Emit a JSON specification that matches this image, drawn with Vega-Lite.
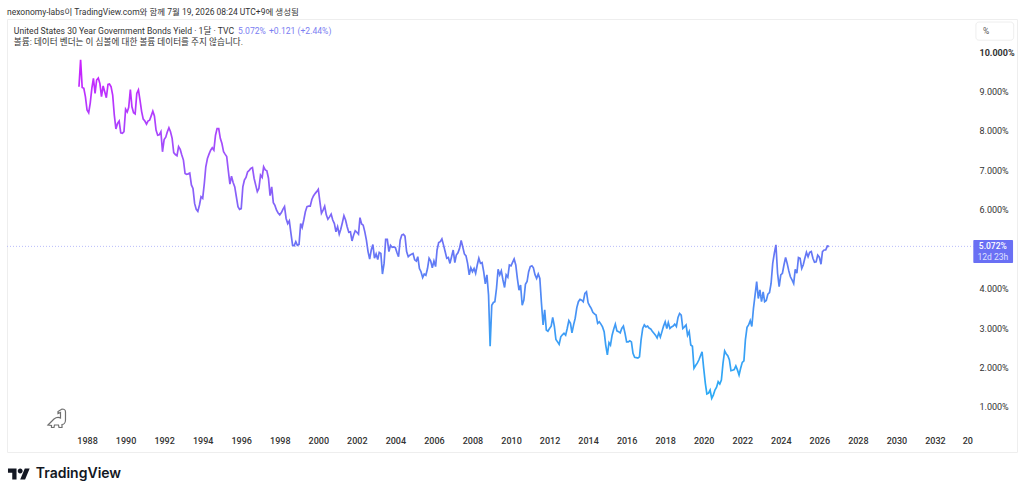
{
  "$schema": "https://vega.github.io/schema/vega-lite/v6.json",
  "autosize": "none",
  "width": 1010,
  "height": 433,
  "padding": {"left": 7, "top": 19, "right": 7, "bottom": 43},
  "background": "white",
  "title": {
    "text": "nexonomy-labs이 TradingView.com와 함께 7월 19, 2026 08:24 UTC+9에 생성됨",
    "anchor": "start",
    "frame": "group",
    "font": "Roboto, Noto Sans CJK KR",
    "fontSize": 8.5,
    "fontWeight": "normal",
    "color": "#333333",
    "offset": 3
  },
  "datasets": {
    "series": [
      {"month":"1987-08","yield":9.12},{"month":"1987-09","yield":9.8},{"month":"1987-10","yield":9.1},{"month":"1987-11","yield":9.08},{"month":"1987-12","yield":8.87},
      {"month":"1988-01","yield":8.53},{"month":"1988-02","yield":8.46},{"month":"1988-03","yield":8.7},{"month":"1988-04","yield":9.08},{"month":"1988-05","yield":9.33},{"month":"1988-06","yield":8.95},{"month":"1988-07","yield":9.29},{"month":"1988-08","yield":9.34},{"month":"1988-09","yield":9.2},{"month":"1988-10","yield":8.87},{"month":"1988-11","yield":9.14},{"month":"1988-12","yield":8.99},
      {"month":"1989-01","yield":8.84},{"month":"1989-02","yield":9.18},{"month":"1989-03","yield":9.19},{"month":"1989-04","yield":9.12},{"month":"1989-05","yield":8.91},{"month":"1989-06","yield":8.4},{"month":"1989-07","yield":8.05},{"month":"1989-08","yield":8.19},{"month":"1989-09","yield":8.25},{"month":"1989-10","yield":7.95},{"month":"1989-11","yield":7.94},{"month":"1989-12","yield":7.98},
      {"month":"1990-01","yield":8.55},{"month":"1990-02","yield":8.48},{"month":"1990-03","yield":8.6},{"month":"1990-04","yield":9.05},{"month":"1990-05","yield":8.61},{"month":"1990-06","yield":8.46},{"month":"1990-07","yield":8.43},{"month":"1990-08","yield":8.95},{"month":"1990-09","yield":9.04},{"month":"1990-10","yield":8.78},{"month":"1990-11","yield":8.49},{"month":"1990-12","yield":8.3},
      {"month":"1991-01","yield":8.25},{"month":"1991-02","yield":8.17},{"month":"1991-03","yield":8.25},{"month":"1991-04","yield":8.27},{"month":"1991-05","yield":8.38},{"month":"1991-06","yield":8.5},{"month":"1991-07","yield":8.38},{"month":"1991-08","yield":8.02},{"month":"1991-09","yield":7.89},{"month":"1991-10","yield":7.9},{"month":"1991-11","yield":7.98},{"month":"1991-12","yield":7.47},
      {"month":"1992-01","yield":7.78},{"month":"1992-02","yield":7.84},{"month":"1992-03","yield":7.97},{"month":"1992-04","yield":8.08},{"month":"1992-05","yield":7.98},{"month":"1992-06","yield":7.81},{"month":"1992-07","yield":7.45},{"month":"1992-08","yield":7.4},{"month":"1992-09","yield":7.37},{"month":"1992-10","yield":7.6},{"month":"1992-11","yield":7.53},{"month":"1992-12","yield":7.39},
      {"month":"1993-01","yield":7.26},{"month":"1993-02","yield":6.92},{"month":"1993-03","yield":6.9},{"month":"1993-04","yield":6.91},{"month":"1993-05","yield":6.93},{"month":"1993-06","yield":6.63},{"month":"1993-07","yield":6.54},{"month":"1993-08","yield":6.16},{"month":"1993-09","yield":6.01},{"month":"1993-10","yield":5.96},{"month":"1993-11","yield":6.12},{"month":"1993-12","yield":6.33},
      {"month":"1994-01","yield":6.29},{"month":"1994-02","yield":6.67},{"month":"1994-03","yield":7.09},{"month":"1994-04","yield":7.3},{"month":"1994-05","yield":7.41},{"month":"1994-06","yield":7.51},{"month":"1994-07","yield":7.57},{"month":"1994-08","yield":7.51},{"month":"1994-09","yield":7.89},{"month":"1994-10","yield":8.06},{"month":"1994-11","yield":8.06},{"month":"1994-12","yield":7.81},
      {"month":"1995-01","yield":7.68},{"month":"1995-02","yield":7.47},{"month":"1995-03","yield":7.41},{"month":"1995-04","yield":7.35},{"month":"1995-05","yield":7.0},{"month":"1995-06","yield":6.65},{"month":"1995-07","yield":6.85},{"month":"1995-08","yield":6.69},{"month":"1995-09","yield":6.58},{"month":"1995-10","yield":6.33},{"month":"1995-11","yield":6.08},{"month":"1995-12","yield":6.01},
      {"month":"1996-01","yield":6.03},{"month":"1996-02","yield":6.58},{"month":"1996-03","yield":6.75},{"month":"1996-04","yield":6.82},{"month":"1996-05","yield":6.96},{"month":"1996-06","yield":7.0},{"month":"1996-07","yield":7.05},{"month":"1996-08","yield":7.07},{"month":"1996-09","yield":6.8},{"month":"1996-10","yield":6.63},{"month":"1996-11","yield":6.46},{"month":"1996-12","yield":6.54},
      {"month":"1997-01","yield":6.88},{"month":"1997-02","yield":6.82},{"month":"1997-03","yield":7.09},{"month":"1997-04","yield":7.01},{"month":"1997-05","yield":6.99},{"month":"1997-06","yield":6.8},{"month":"1997-07","yield":6.36},{"month":"1997-08","yield":6.58},{"month":"1997-09","yield":6.18},{"month":"1997-10","yield":6.11},{"month":"1997-11","yield":5.99},{"month":"1997-12","yield":5.92},
      {"month":"1998-01","yield":5.87},{"month":"1998-02","yield":5.93},{"month":"1998-03","yield":6.01},{"month":"1998-04","yield":6.08},{"month":"1998-05","yield":5.78},{"month":"1998-06","yield":5.65},{"month":"1998-07","yield":5.72},{"month":"1998-08","yield":5.4},{"month":"1998-09","yield":5.1},{"month":"1998-10","yield":5.09},{"month":"1998-11","yield":5.19},{"month":"1998-12","yield":5.1},
      {"month":"1999-01","yield":5.12},{"month":"1999-02","yield":5.65},{"month":"1999-03","yield":5.55},{"month":"1999-04","yield":5.74},{"month":"1999-05","yield":5.95},{"month":"1999-06","yield":6.08},{"month":"1999-07","yield":6.09},{"month":"1999-08","yield":6.09},{"month":"1999-09","yield":6.26},{"month":"1999-10","yield":6.35},{"month":"1999-11","yield":6.41},{"month":"1999-12","yield":6.46},
      {"month":"2000-01","yield":6.52},{"month":"2000-02","yield":6.2},{"month":"2000-03","yield":5.91},{"month":"2000-04","yield":5.99},{"month":"2000-05","yield":6.09},{"month":"2000-06","yield":5.87},{"month":"2000-07","yield":5.76},{"month":"2000-08","yield":5.82},{"month":"2000-09","yield":5.89},{"month":"2000-10","yield":5.74},{"month":"2000-11","yield":5.65},{"month":"2000-12","yield":5.44},
      {"month":"2001-01","yield":5.57},{"month":"2001-02","yield":5.38},{"month":"2001-03","yield":5.5},{"month":"2001-04","yield":5.67},{"month":"2001-05","yield":5.85},{"month":"2001-06","yield":5.74},{"month":"2001-07","yield":5.57},{"month":"2001-08","yield":5.43},{"month":"2001-09","yield":5.44},{"month":"2001-10","yield":5.21},{"month":"2001-11","yield":5.36},{"month":"2001-12","yield":5.47},
      {"month":"2002-01","yield":5.43},{"month":"2002-02","yield":5.38},{"month":"2002-03","yield":5.8},{"month":"2002-04","yield":5.64},{"month":"2002-05","yield":5.61},{"month":"2002-06","yield":5.44},{"month":"2002-07","yield":5.23},{"month":"2002-08","yield":4.94},{"month":"2002-09","yield":4.75},{"month":"2002-10","yield":4.98},{"month":"2002-11","yield":5.12},{"month":"2002-12","yield":4.77},
      {"month":"2003-01","yield":4.88},{"month":"2003-02","yield":4.74},{"month":"2003-03","yield":4.92},{"month":"2003-04","yield":4.89},{"month":"2003-05","yield":4.37},{"month":"2003-06","yield":4.64},{"month":"2003-07","yield":5.25},{"month":"2003-08","yield":5.25},{"month":"2003-09","yield":4.94},{"month":"2003-10","yield":5.1},{"month":"2003-11","yield":5.05},{"month":"2003-12","yield":5.06},
      {"month":"2004-01","yield":5.04},{"month":"2004-02","yield":4.91},{"month":"2004-03","yield":4.81},{"month":"2004-04","yield":5.23},{"month":"2004-05","yield":5.36},{"month":"2004-06","yield":5.38},{"month":"2004-07","yield":5.33},{"month":"2004-08","yield":4.94},{"month":"2004-09","yield":4.81},{"month":"2004-10","yield":4.85},{"month":"2004-11","yield":4.87},{"month":"2004-12","yield":4.89},
      {"month":"2005-01","yield":4.73},{"month":"2005-02","yield":4.7},{"month":"2005-03","yield":4.81},{"month":"2005-04","yield":4.51},{"month":"2005-05","yield":4.43},{"month":"2005-06","yield":4.28},{"month":"2005-07","yield":4.37},{"month":"2005-08","yield":4.34},{"month":"2005-09","yield":4.51},{"month":"2005-10","yield":4.77},{"month":"2005-11","yield":4.7},{"month":"2005-12","yield":4.53},
      {"month":"2006-01","yield":4.7},{"month":"2006-02","yield":4.56},{"month":"2006-03","yield":4.98},{"month":"2006-04","yield":5.17},{"month":"2006-05","yield":5.19},{"month":"2006-06","yield":5.26},{"month":"2006-07","yield":5.11},{"month":"2006-08","yield":4.94},{"month":"2006-09","yield":4.77},{"month":"2006-10","yield":4.79},{"month":"2006-11","yield":4.64},{"month":"2006-12","yield":4.81},
      {"month":"2007-01","yield":4.98},{"month":"2007-02","yield":4.66},{"month":"2007-03","yield":4.85},{"month":"2007-04","yield":4.91},{"month":"2007-05","yield":5.02},{"month":"2007-06","yield":5.22},{"month":"2007-07","yield":5.06},{"month":"2007-08","yield":4.88},{"month":"2007-09","yield":4.83},{"month":"2007-10","yield":4.64},{"month":"2007-11","yield":4.35},{"month":"2007-12","yield":4.53},
      {"month":"2008-01","yield":4.43},{"month":"2008-02","yield":4.51},{"month":"2008-03","yield":4.39},{"month":"2008-04","yield":4.6},{"month":"2008-05","yield":4.77},{"month":"2008-06","yield":4.64},{"month":"2008-07","yield":4.66},{"month":"2008-08","yield":4.43},{"month":"2008-09","yield":4.12},{"month":"2008-10","yield":4.35},{"month":"2008-11","yield":3.84},{"month":"2008-12","yield":2.54},
      {"month":"2009-01","yield":3.58},{"month":"2009-02","yield":3.65},{"month":"2009-03","yield":3.67},{"month":"2009-04","yield":4.01},{"month":"2009-05","yield":4.49},{"month":"2009-06","yield":4.35},{"month":"2009-07","yield":4.45},{"month":"2009-08","yield":4.22},{"month":"2009-09","yield":4.03},{"month":"2009-10","yield":4.35},{"month":"2009-11","yield":4.29},{"month":"2009-12","yield":4.6},
      {"month":"2010-01","yield":4.58},{"month":"2010-02","yield":4.67},{"month":"2010-03","yield":4.75},{"month":"2010-04","yield":4.6},{"month":"2010-05","yield":4.26},{"month":"2010-06","yield":3.96},{"month":"2010-07","yield":4.09},{"month":"2010-08","yield":3.58},{"month":"2010-09","yield":3.71},{"month":"2010-10","yield":4.11},{"month":"2010-11","yield":4.18},{"month":"2010-12","yield":4.43},
      {"month":"2011-01","yield":4.56},{"month":"2011-02","yield":4.58},{"month":"2011-03","yield":4.53},{"month":"2011-04","yield":4.35},{"month":"2011-05","yield":4.26},{"month":"2011-06","yield":4.37},{"month":"2011-07","yield":4.26},{"month":"2011-08","yield":3.63},{"month":"2011-09","yield":3.08},{"month":"2011-10","yield":3.46},{"month":"2011-11","yield":2.95},{"month":"2011-12","yield":2.92},
      {"month":"2012-01","yield":2.99},{"month":"2012-02","yield":3.05},{"month":"2012-03","yield":3.27},{"month":"2012-04","yield":3.05},{"month":"2012-05","yield":2.71},{"month":"2012-06","yield":2.65},{"month":"2012-07","yield":2.59},{"month":"2012-08","yield":2.78},{"month":"2012-09","yield":2.83},{"month":"2012-10","yield":2.87},{"month":"2012-11","yield":2.82},{"month":"2012-12","yield":2.99},
      {"month":"2013-01","yield":3.19},{"month":"2013-02","yield":3.12},{"month":"2013-03","yield":2.88},{"month":"2013-04","yield":3.08},{"month":"2013-05","yield":3.25},{"month":"2013-06","yield":3.52},{"month":"2013-07","yield":3.67},{"month":"2013-08","yield":3.73},{"month":"2013-09","yield":3.71},{"month":"2013-10","yield":3.67},{"month":"2013-11","yield":3.88},{"month":"2013-12","yield":3.92},
      {"month":"2014-01","yield":3.64},{"month":"2014-02","yield":3.56},{"month":"2014-03","yield":3.5},{"month":"2014-04","yield":3.4},{"month":"2014-05","yield":3.36},{"month":"2014-06","yield":3.33},{"month":"2014-07","yield":3.12},{"month":"2014-08","yield":3.16},{"month":"2014-09","yield":3.1},{"month":"2014-10","yield":3.03},{"month":"2014-11","yield":2.91},{"month":"2014-12","yield":2.57},
      {"month":"2015-01","yield":2.32},{"month":"2015-02","yield":2.63},{"month":"2015-03","yield":2.57},{"month":"2015-04","yield":2.82},{"month":"2015-05","yield":2.97},{"month":"2015-06","yield":3.1},{"month":"2015-07","yield":2.93},{"month":"2015-08","yield":2.91},{"month":"2015-09","yield":2.88},{"month":"2015-10","yield":2.99},{"month":"2015-11","yield":3.05},{"month":"2015-12","yield":2.87},
      {"month":"2016-01","yield":2.65},{"month":"2016-02","yield":2.65},{"month":"2016-03","yield":2.68},{"month":"2016-04","yield":2.65},{"month":"2016-05","yield":2.36},{"month":"2016-06","yield":2.26},{"month":"2016-07","yield":2.25},{"month":"2016-08","yield":2.24},{"month":"2016-09","yield":2.27},{"month":"2016-10","yield":2.7},{"month":"2016-11","yield":2.99},{"month":"2016-12","yield":3.08},
      {"month":"2017-01","yield":3.03},{"month":"2017-02","yield":3.05},{"month":"2017-03","yield":3.0},{"month":"2017-04","yield":2.98},{"month":"2017-05","yield":2.92},{"month":"2017-06","yield":2.87},{"month":"2017-07","yield":2.82},{"month":"2017-08","yield":2.75},{"month":"2017-09","yield":2.88},{"month":"2017-10","yield":2.77},{"month":"2017-11","yield":2.91},{"month":"2017-12","yield":3.05},
      {"month":"2018-01","yield":3.16},{"month":"2018-02","yield":2.99},{"month":"2018-03","yield":3.14},{"month":"2018-04","yield":2.99},{"month":"2018-05","yield":3.03},{"month":"2018-06","yield":3.05},{"month":"2018-07","yield":3.1},{"month":"2018-08","yield":3.04},{"month":"2018-09","yield":3.27},{"month":"2018-10","yield":3.37},{"month":"2018-11","yield":3.33},{"month":"2018-12","yield":2.99},
      {"month":"2019-01","yield":3.03},{"month":"2019-02","yield":3.08},{"month":"2019-03","yield":2.82},{"month":"2019-04","yield":2.91},{"month":"2019-05","yield":2.57},{"month":"2019-06","yield":2.54},{"month":"2019-07","yield":1.98},{"month":"2019-08","yield":2.05},{"month":"2019-09","yield":2.11},{"month":"2019-10","yield":2.19},{"month":"2019-11","yield":2.3},{"month":"2019-12","yield":2.4},
      {"month":"2020-01","yield":1.98},{"month":"2020-02","yield":1.6},{"month":"2020-03","yield":1.33},{"month":"2020-04","yield":1.35},{"month":"2020-05","yield":1.43},{"month":"2020-06","yield":1.22},{"month":"2020-07","yield":1.3},{"month":"2020-08","yield":1.43},{"month":"2020-09","yield":1.5},{"month":"2020-10","yield":1.64},{"month":"2020-11","yield":1.58},{"month":"2020-12","yield":1.68},
      {"month":"2021-01","yield":2.11},{"month":"2021-02","yield":2.42},{"month":"2021-03","yield":2.35},{"month":"2021-04","yield":2.3},{"month":"2021-05","yield":2.2},{"month":"2021-06","yield":1.92},{"month":"2021-07","yield":1.93},{"month":"2021-08","yield":1.95},{"month":"2021-09","yield":2.04},{"month":"2021-10","yield":1.94},{"month":"2021-11","yield":1.81},{"month":"2021-12","yield":1.98},
      {"month":"2022-01","yield":2.13},{"month":"2022-02","yield":2.17},{"month":"2022-03","yield":2.7},{"month":"2022-04","yield":3.02},{"month":"2022-05","yield":3.08},{"month":"2022-06","yield":3.19},{"month":"2022-07","yield":3.04},{"month":"2022-08","yield":3.5},{"month":"2022-09","yield":3.84},{"month":"2022-10","yield":4.18},{"month":"2022-11","yield":3.75},{"month":"2022-12","yield":3.97},
      {"month":"2023-01","yield":3.67},{"month":"2023-02","yield":3.92},{"month":"2023-03","yield":3.67},{"month":"2023-04","yield":3.7},{"month":"2023-05","yield":3.86},{"month":"2023-06","yield":3.9},{"month":"2023-07","yield":4.13},{"month":"2023-08","yield":4.64},{"month":"2023-09","yield":4.9},{"month":"2023-10","yield":5.11},{"month":"2023-11","yield":4.39},{"month":"2023-12","yield":4.05},
      {"month":"2024-01","yield":4.35},{"month":"2024-02","yield":4.39},{"month":"2024-03","yield":4.6},{"month":"2024-04","yield":4.79},{"month":"2024-05","yield":4.64},{"month":"2024-06","yield":4.45},{"month":"2024-07","yield":4.3},{"month":"2024-08","yield":4.22},{"month":"2024-09","yield":4.13},{"month":"2024-10","yield":4.49},{"month":"2024-11","yield":4.39},{"month":"2024-12","yield":4.79},
      {"month":"2025-01","yield":4.77},{"month":"2025-02","yield":4.51},{"month":"2025-03","yield":4.6},{"month":"2025-04","yield":4.77},{"month":"2025-05","yield":4.92},{"month":"2025-06","yield":4.81},{"month":"2025-07","yield":4.92},{"month":"2025-08","yield":4.94},{"month":"2025-09","yield":4.77},{"month":"2025-10","yield":4.67},{"month":"2025-11","yield":4.68},{"month":"2025-12","yield":4.85},
      {"month":"2026-01","yield":4.8},{"month":"2026-02","yield":4.62},{"month":"2026-03","yield":4.94},{"month":"2026-04","yield":4.98},{"month":"2026-05","yield":4.98},{"month":"2026-06","yield":5.08},{"month":"2026-07","yield":5.072}
    ],
    "header": [
      {"month":"1984-03-15","yield":10.54,"label":"United States 30 Year Government Bonds Yield · 1달 · TVC"},
      {"month":"1984-03-15","yield":10.25,"label":"볼륨: 데이터 벤더는 이 심볼에 대한 볼륨 데이터를 주지 않습니다."}
    ],
    "quote": [
      {"month":"1995-11-01","yield":10.54,"label":"5.072%"},
      {"month":"1997-06-10","yield":10.54,"label":"+0.121 (+2.44%)"}
    ]
  },
  "layer": [
    {
      "data": {"values": [{"start":"1983-11-06","end":"2034-01-01","price":5.072}]},
      "mark": {"type": "rule", "color": "#b9bcfa", "strokeWidth": 1, "strokeDash": [1, 2]},
      "encoding": {
        "x": {"field": "start", "type": "temporal", "scale": {"type": "utc", "domain": ["1983-11-06", "2036-04-04"], "nice": false},
          "title": null,
          "axis": {
            "orient": "bottom", "offset": -17, "domain": false, "ticks": false, "grid": false,
            "labelPadding": 1, "format": "%Y", "labelFont": "Roboto", "labelFontSize": 9, "labelFontWeight": 500, "labelColor": "#333333", "labelFlush": false, "labelOverlap": false,
            "values": [{"year":1988},{"year":1990},{"year":1992},{"year":1994},{"year":1996},{"year":1998},{"year":2000},{"year":2002},{"year":2004},{"year":2006},{"year":2008},{"year":2010},{"year":2012},{"year":2014},{"year":2016},{"year":2018},{"year":2020},{"year":2022},{"year":2024},{"year":2026},{"year":2028},{"year":2030},{"year":2032}]
          }
        },
        "x2": {"field": "end"},
        "y": {"field": "price", "type": "quantitative", "scale": {"domain": [-0.142, 10.837], "nice": false, "zero": false},
          "title": null,
          "axis": {
            "orient": "right", "offset": -38, "domain": false, "ticks": false, "grid": false,
            "labelPadding": 0, "labelAlign": "left", "format": ".3f", "labelExpr": "datum.label + '%'",
            "labelFont": "Roboto", "labelFontSize": 9, "labelColor": "#333333",
            "labelFontWeight": {"condition": {"test": "datum.value == 10", "value": "bold"}, "value": "normal"},
            "values": [1, 2, 3, 4, 6, 7, 8, 9, 10]
          }
        }
      }
    },
    {
      "data": {"name": "series"},
      "mark": {
        "type": "line", "strokeWidth": 1.7, "interpolate": "linear",
        "stroke": {
          "gradient": "linear", "x1": 0, "y1": 0, "x2": 0, "y2": 1,
          "stops": [
            {"offset": 0, "color": "#cc1fff"},
            {"offset": 0.3, "color": "#9b55fb"},
            {"offset": 0.55, "color": "#6a72f5"},
            {"offset": 0.8, "color": "#3d9cf5"},
            {"offset": 1, "color": "#2babf5"}
          ]
        }
      },
      "encoding": {
        "x": {"field": "month", "type": "temporal"},
        "y": {"field": "yield", "type": "quantitative"}
      }
    },
    {
      "data": {"values": [{"start":"2033-12-28","end":"2036-01-20","low":4.65,"high":5.233}]},
      "mark": {"type": "rect", "color": "#6a70f4", "cornerRadius": 1},
      "encoding": {
        "x": {"field": "start", "type": "temporal"},
        "x2": {"field": "end"},
        "y": {"field": "low", "type": "quantitative"},
        "y2": {"field": "high"}
      }
    },
    {
      "data": {"values": [{"month":"2035-01-01","yield":5.09,"label":"5.072%"}]},
      "mark": {"type": "text", "color": "white", "font": "Roboto", "fontSize": 8.5, "fontWeight": 500, "align": "center", "baseline": "middle"},
      "encoding": {
        "x": {"field": "month", "type": "temporal"},
        "y": {"field": "yield", "type": "quantitative"},
        "text": {"field": "label"}
      }
    },
    {
      "data": {"values": [{"month":"2035-01-01","yield":4.8,"label":"12d 23h"}]},
      "mark": {"type": "text", "color": "#dfe1ff", "font": "Roboto", "fontSize": 8.5, "align": "center", "baseline": "middle"},
      "encoding": {
        "x": {"field": "month", "type": "temporal"},
        "y": {"field": "yield", "type": "quantitative"},
        "text": {"field": "label"}
      }
    },
    {
      "data": {"values": [{"start":"2034-02-15","end":"2036-02-01","low":10.3,"high":10.76}]},
      "mark": {"type": "rect", "fill": "white", "stroke": "#eeeeee", "cornerRadius": 3},
      "encoding": {
        "x": {"field": "start", "type": "temporal"},
        "x2": {"field": "end"},
        "y": {"field": "low", "type": "quantitative"},
        "y2": {"field": "high"}
      }
    },
    {
      "data": {"values": [{"month":"2034-07-01","yield":10.53,"label":"%"}]},
      "mark": {"type": "text", "color": "#555555", "font": "Roboto", "fontSize": 8.5, "align": "left", "baseline": "middle"},
      "encoding": {
        "x": {"field": "month", "type": "temporal"},
        "y": {"field": "yield", "type": "quantitative"},
        "text": {"field": "label"}
      }
    },
    {
      "data": {"values": [{"month":"2033-09-15","yield":0.137,"label":"20"}]},
      "mark": {"type": "text", "color": "#333333", "font": "Roboto", "fontSize": 9, "fontWeight": 500, "align": "center", "baseline": "middle"},
      "encoding": {
        "x": {"field": "month", "type": "temporal"},
        "y": {"field": "yield", "type": "quantitative"},
        "text": {"field": "label"}
      }
    },
    {
      "data": {"name": "header"},
      "mark": {"type": "text", "color": "#333333", "font": "Roboto, Noto Sans CJK KR", "fontSize": 8.6, "align": "left", "baseline": "middle"},
      "encoding": {
        "x": {"field": "month", "type": "temporal"},
        "y": {"field": "yield", "type": "quantitative"},
        "text": {"field": "label"}
      }
    },
    {
      "data": {"name": "quote"},
      "mark": {"type": "text", "color": "#7c80f2", "font": "Roboto", "fontSize": 8.6, "align": "left", "baseline": "middle"},
      "encoding": {
        "x": {"field": "month", "type": "temporal"},
        "y": {"field": "yield", "type": "quantitative"},
        "text": {"field": "label"}
      }
    },
    {
      "data": {"values": [{"month":"1986-06-20","yield":0.695,"icon":"dino"}]},
      "mark": {
        "type": "point", "filled": false, "stroke": "#333333", "strokeWidth": 1.2, "size": 400,
        "shape": "M-0.95 0.6L-0.35 0C-0.1 -0.2 0.2 -0.15 0.3 -0.1L0.3 -0.65L0.05 -0.55L0.05 -0.75L0.45 -1C0.7 -1 0.8 -0.9 0.8 -0.7L0.8 0.1C0.8 0.4 0.6 0.55 0.45 0.55L0.45 0.85L0.15 0.85L0.1 0.6L-0.3 0.6L-0.35 0.85L-0.6 0.85L-0.6 0.65Z"
      },
      "encoding": {
        "x": {"field": "month", "type": "temporal"},
        "y": {"field": "yield", "type": "quantitative"}
      }
    },
    {
      "data": {"values": [{"month":"1984-06-20","yield":-0.7,"icon":"logo"}]},
      "mark": {
        "type": "point", "filled": true, "fill": "#131722", "opacity": 1, "size": 484,
        "shape": "M-0.222 0.5H-0.611V-0.111H-1V-0.5H-0.222ZM0.556 0.5H0.111L0.528 -0.5H0.972ZM-0.111 -0.278A0.222 0.222 0 1 0 0.333 -0.278A0.222 0.222 0 1 0 -0.111 -0.278Z"
      },
      "encoding": {
        "x": {"field": "month", "type": "temporal"},
        "y": {"field": "yield", "type": "quantitative"}
      }
    },
    {
      "data": {"values": [{"month":"1985-05-05","yield":-0.7,"label":"TradingView"}]},
      "mark": {"type": "text", "color": "#131722", "font": "Inter", "fontSize": 14, "fontWeight": 600, "align": "left", "baseline": "middle"},
      "encoding": {
        "x": {"field": "month", "type": "temporal"},
        "y": {"field": "yield", "type": "quantitative"},
        "text": {"field": "label"}
      }
    }
  ],
  "config": {"view": {"stroke": "#eeeeee"}}
}
